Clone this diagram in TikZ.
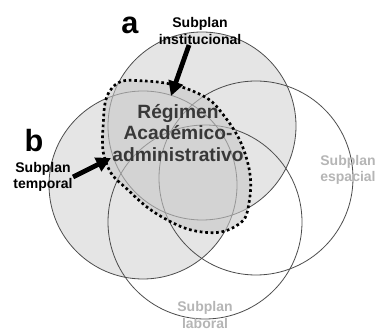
\documentclass[tikz,border=0pt]{standalone}
\usepackage{fontspec}
\setmainfont{Liberation Sans}
\usetikzlibrary{arrows.meta}
\definecolor{circfill}{gray}{0.9}
\definecolor{corefill}{gray}{0.78}
\definecolor{maintext}{gray}{0.22}
\definecolor{paletext}{gray}{0.71}
\tikzset{
  subplan/.style={draw=black!70,line width=0.6pt},
  core/.style={draw=black,line width=2pt,dash pattern=on 2pt off 2.1pt,fill=corefill,fill opacity=0.6},
  label/.style={font=\bfseries\fontsize{10.5}{12.4}\selectfont,align=center,inner sep=0pt},
  letter/.style={font=\bfseries\fontsize{23}{23}\selectfont,inner sep=0pt},
  core text/.style={font=\bfseries\fontsize{14.4}{16.4}\selectfont,align=center,inner sep=0pt,text=maintext},
  pointer/.style={line width=3.6pt,-{Triangle[length=11pt,width=11pt]}}
}
\begin{document}
\begin{tikzpicture}[x=0.75pt,y=-0.75pt]
\useasboundingbox (0,0) rectangle (378,331);
% shaded subplans
\fill[circfill] (202,126) circle[radius=94];
\fill[circfill] (143,185) circle[radius=94];
% outlines
\draw[subplan] (202,126) circle[radius=94];
\draw[subplan] (143,185) circle[radius=94];
\draw[subplan] (256,178) circle[radius=97];
\draw[subplan] (205,222) circle[radius=97];
% regimen
\draw[core] plot[smooth cycle,tension=0.75] coordinates {(112,88) (145,81) (195,92) (225,117) (247,160) (249,203) (236,226) (202,232) (162,217) (128,190) (107,165) (103,128)};
% texts
\node[core text] (regimen) at (178,133) {Régimen\\Académico-\\administrativo};
\node[letter] (lblA) at (130,25) {a};
\node[letter] (lblB) at (34,141) {b};
\node[label] (inst) at (200,31) {Subplan\\institucional};
\node[label] (temp) at (43,177) {Subplan\\temporal};
\node[label,text=paletext] (espa) at (348,170) {Subplan\\espacial};
\node[label,text=paletext] (labo) at (205,315) {Subplan\\laboral};
% arrows
\coordinate (instTail) at (189,45);
\coordinate (instTip) at (171,96);
\coordinate (tempTail) at (73,177);
\coordinate (tempTip) at (111,158);
\draw[pointer] (instTail) -- (instTip);
\draw[pointer] (tempTail) -- (tempTip);
\end{tikzpicture}
\end{document}
